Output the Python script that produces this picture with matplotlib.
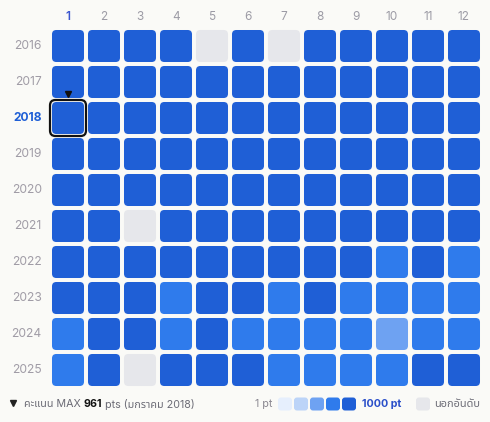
import matplotlib
matplotlib.use("Agg")
import matplotlib.pyplot as plt
from matplotlib.patches import FancyBboxPatch
from matplotlib.lines import Line2D

plt.rcParams['font.family'] = ['Inter', 'Noto Sans Thai', 'DejaVu Sans']

# Monthly score (pts), None = not ranked
years = [2016, 2017, 2018, 2019, 2020, 2021, 2022, 2023, 2024, 2025]
months = [str(m) for m in range(1, 13)]
scores = [
    [905, 890, 880, 870, None, 860, None, 850, 865, 870, 880, 890],
    [900, 910, 905, 895, 890, 885, 880, 875, 870, 880, 890, 900],
    [961, 940, 930, 925, 920, 915, 910, 905, 900, 910, 915, 920],
    [910, 905, 900, 895, 890, 885, 880, 875, 870, 865, 870, 880],
    [890, 885, 880, 875, 870, 865, 860, 855, 850, 860, 865, 870],
    [860, 850, None, 845, 840, 835, 830, 825, 820, 830, 835, 840],
    [835, 830, 825, 820, 815, 810, 812, 818, 805, 780, 810, 770],
    [820, 815, 810, 760, 805, 808, 750, 812, 740, 730, 745, 735],
    [720, 810, 805, 730, 815, 740, 725, 735, 715, 560, 720, 710],
    [700, 830, None, 820, 815, 810, 730, 720, 740, 725, 825, 840],
]
max_year, max_month = 2018, 1

level_colors = ['#e6effd', '#bcd4f8', '#6ea2f2', '#2f7bec', '#1f5fd6']
missing_color = '#e6e7eb'
bg = '#fafaf7'


def color_for(v):
    if v is None:
        return missing_color
    idx = min(int((v - 1) / 200), 4)
    return level_colors[idx]


fig = plt.figure(figsize=(4.9, 4.22), dpi=100, facecolor=bg)
ax = fig.add_axes([50 / 490, 34 / 422, 432 / 490, 360 / 422])
ax.set_facecolor(bg)
ax.set_xlim(0.5, 12.5)
ax.set_ylim(10.5, 0.5)
ax.axis('off')

cell = 0.889
for r, yr in enumerate(years):
    for c, m in enumerate(months):
        x, y = c + 1, r + 1
        ax.add_patch(FancyBboxPatch((x - cell / 2, y - cell / 2), cell, cell,
                                    boxstyle="round,pad=0,rounding_size=0.12",
                                    fc=color_for(scores[r][c]), ec='none'))

# month header
for c, m in enumerate(months):
    hl = (c + 1) == max_month
    ax.text(c + 1, 0.2, m, ha='center', va='center', fontsize=8.5,
            color='#3a55cf' if hl else '#9c9ba5', fontweight='semibold' if hl else 'normal',
            clip_on=False)

# year labels
for r, yr in enumerate(years):
    hl = yr == max_year
    ax.text(0.27, r + 1, str(yr), ha='right', va='center', fontsize=8.7,
            color='#1f5fd6' if hl else '#a09ca6', fontweight='bold' if hl else 'normal',
            clip_on=False)

# highlight the max cell
hr, hc = years.index(max_year) + 1, max_month
ax.add_patch(FancyBboxPatch((hc - 0.5, hr - 0.5), 1.0, 1.0,
                            boxstyle="round,pad=0,rounding_size=0.15",
                            fc='none', ec='#111111', lw=1.6, clip_on=False))
ax.plot([hc], [hr - 0.66], marker='v', color='#111111', markersize=5, clip_on=False)

# footer: max note
fig.canvas.draw()
renderer = fig.canvas.get_renderer()
fy = (422 - 404) / 422
fig.add_artist(Line2D([13 / 490], [fy + 0.002], marker='v', color='#222222', markersize=5,
                      transform=fig.transFigure))
parts = [('คะแนน MAX ', 'normal', '#6b6b75'), (str(scores[years.index(max_year)][max_month - 1]), 'bold', '#111111'),
         (' pts (มกราคม %d)' % max_year, 'normal', '#6b6b75')]
x0 = 24 / 490
for txt, w, col in parts:
    t = fig.text(x0, fy, txt, ha='left', va='center', fontsize=7.7, fontweight=w, color=col)
    bb = t.get_window_extent(renderer)
    x0 = bb.x1 / fig.bbox.width

# footer: legend
fig.text(272 / 490, fy, '1 pt', ha='right', va='center', fontsize=7.7, color='#8a8790')
sq_w, sq_h = 14 / 490, 13 / 422
for i, col in enumerate(level_colors):
    xs = (278 + i * 16) / 490
    fig.add_artist(FancyBboxPatch((xs, fy - sq_h / 2), sq_w, sq_h,
                                  boxstyle="round,pad=0,rounding_size=0.006",
                                  fc=col, ec='none', transform=fig.transFigure,
                                  mutation_aspect=490 / 422))
fig.text(362 / 490, fy, '1000 pt', ha='left', va='center', fontsize=7.7,
         fontweight='bold', color='#2a4fc9')
fig.add_artist(FancyBboxPatch((416 / 490, fy - sq_h / 2), sq_w, sq_h,
                              boxstyle="round,pad=0,rounding_size=0.006",
                              fc=missing_color, ec='none', transform=fig.transFigure,
                              mutation_aspect=490 / 422))
fig.text(434 / 490, fy, 'นอกอันดับ', ha='left', va='center', fontsize=7.9, color='#6b6b75')

fig.savefig('out.png', facecolor=bg)
